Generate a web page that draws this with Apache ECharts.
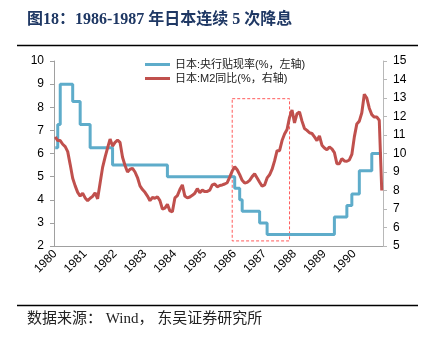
<!DOCTYPE html>
<html>
<head>
<meta charset="utf-8">
<script src="https://cdn.jsdelivr.net/npm/echarts@6/dist/echarts.min.js"></script>
<style>
  html, body { margin: 0; padding: 0; background: #fff; }
  #chart { width: 432px; height: 340px; }
</style>
</head>
<body>
<div id="chart"></div>
<script>
// Years shown on the category axis (one label per January)
const years = ['1980', '1981', '1982', '1983', '1984', '1985', '1986', '1987', '1988', '1989', '1990'];

// Bank of Japan official discount rate, month-end, %
const discountRate = [
  6.25, 7.25, 9.0, 9.0, 9.0, 9.0, 9.0, 8.25, 8.25, 8.25, 7.25, 7.25,          // 1980
  7.25, 7.25, 6.25, 6.25, 6.25, 6.25, 6.25, 6.25, 6.25, 6.25, 6.25, 5.5,      // 1981
  5.5, 5.5, 5.5, 5.5, 5.5, 5.5, 5.5, 5.5, 5.5, 5.5, 5.5, 5.5,                 // 1982
  5.5, 5.5, 5.5, 5.5, 5.5, 5.5, 5.5, 5.5, 5.5, 5.0, 5.0, 5.0,                 // 1983
  5.0, 5.0, 5.0, 5.0, 5.0, 5.0, 5.0, 5.0, 5.0, 5.0, 5.0, 5.0,                 // 1984
  5.0, 5.0, 5.0, 5.0, 5.0, 5.0, 5.0, 5.0, 5.0, 5.0, 5.0, 5.0,                 // 1985
  4.5, 4.5, 4.0, 3.5, 3.5, 3.5, 3.5, 3.5, 3.5, 3.5, 3.0, 3.0,                 // 1986
  3.0, 2.5, 2.5, 2.5, 2.5, 2.5, 2.5, 2.5, 2.5, 2.5, 2.5, 2.5,                 // 1987
  2.5, 2.5, 2.5, 2.5, 2.5, 2.5, 2.5, 2.5, 2.5, 2.5, 2.5, 2.5,                 // 1988
  2.5, 2.5, 2.5, 2.5, 3.25, 3.25, 3.25, 3.25, 3.25, 3.75, 3.75, 4.25,         // 1989
  4.25, 4.25, 5.25, 5.25, 5.25, 5.25, 5.25, 6.0, 6.0, 6.0, 6.0, 6.0           // 1990
];

// Japan M2 money supply, year-on-year growth, %
const m2Growth = [
  10.9, 10.7, 10.7, 10.5, 10.37, 10.1, 9.4, 8.66, 8.25, 7.9, 7.7, 7.85,       // 1980
  7.6, 7.45, 7.58, 7.68, 7.88, 7.55, 8.4, 9.25, 9.8, 10.3, 10.78, 10.4,       // 1981
  10.6, 10.72, 10.6, 9.8, 9.35, 9.0, 9.15, 9.2, 9.0, 8.7, 8.25, 8.05,         // 1982
  7.9, 7.7, 7.45, 7.62, 7.58, 7.66, 7.45, 7.0, 7.05, 7.25, 6.9, 6.85,         // 1983
  7.6, 7.72, 8.05, 8.3, 7.7, 7.6, 7.65, 7.74, 7.85, 8.1, 7.88, 8.02,          // 1984
  7.94, 7.95, 8.02, 8.3, 8.35, 8.2, 8.27, 8.3, 8.35, 8.42, 8.72, 9.05,        // 1985
  9.28, 9.12, 8.86, 8.55, 8.4, 8.44, 8.55, 8.75, 8.9, 8.68, 8.45, 8.23,       // 1986
  8.3, 8.68, 8.85, 9.15, 9.6, 10.15, 10.15, 10.7, 11.05, 11.3, 11.95, 12.35,  // 1987
  11.65, 12.15, 12.25, 11.75, 11.35, 11.25, 11.12, 11.08, 10.9, 10.7, 10.95, 10.45, // 1988
  10.3, 10.2, 10.35, 10.25, 10.05, 9.45, 9.45, 9.72, 9.6, 9.58, 9.65, 9.95,   // 1989
  10.9, 11.6, 11.75, 12.2, 13.2, 13.0, 12.45, 12.1, 11.97, 11.97, 11.8, 8.0   // 1990
];

// Monthly categories built from the year list
const months = [];
years.forEach(function (y) {
  for (let m = 1; m <= 12; m++) months.push(y + '-' + (m < 10 ? '0' + m : '' + m));
});

const seriesNames = ['日本:央行贴现率(%，左轴)', '日本:M2同比(%，右轴)'];
const titleText = '图18：1986-1987 年日本连续 5 次降息';
const sourceText = '数据来源： Wind， 东吴证券研究所';

const blue = '#5eacca';
const red = '#c0504d';
const axisGrey = '#a0a0a0';
const sansFont = '"Liberation Sans", Arial, sans-serif';
const cjkFont = '"Liberation Sans", "Noto Sans CJK SC", sans-serif';
const serifFont = '"Liberation Serif", "Times New Roman", "Noto Sans CJK SC", serif';

const chart = echarts.init(document.getElementById('chart'), null, { renderer: 'canvas' });

chart.setOption({
  animation: false,
  backgroundColor: '#fff',
  grid: { left: 54, right: 49, top: 61, bottom: 94, containLabel: false },
  legend: {
    orient: 'vertical',
    left: 140,
    top: 53,
    itemWidth: 25,
    itemHeight: 3,
    itemGap: 1,
    icon: 'rect',
    textStyle: { fontFamily: cjkFont, fontSize: 11, color: '#222', lineHeight: 13 },
    data: seriesNames
  },
  graphic: [
    {
      type: 'text', left: 27, top: 12,
      style: { text: titleText, font: 'bold 16px ' + serifFont, fill: '#1f3864' }
    },
    {
      type: 'line', shape: { x1: 17, y1: 45.5, x2: 418, y2: 45.5 },
      style: { stroke: '#000', lineWidth: 1.5 }
    },
    {
      type: 'line', shape: { x1: 17, y1: 305.5, x2: 418, y2: 305.5 },
      style: { stroke: '#000', lineWidth: 1.5 }
    },
    {
      type: 'text', left: 27, top: 312,
      style: { text: sourceText, font: '15px ' + serifFont, fill: '#222' }
    }
  ],
  xAxis: {
    type: 'category',
    data: months,
    boundaryGap: true,
    axisLine: { lineStyle: { color: axisGrey, width: 1 } },
    axisTick: { interval: 11, length: 4, lineStyle: { color: axisGrey } },
    axisLabel: {
      interval: 11,
      rotate: 45,
      margin: 6,
      fontFamily: sansFont,
      fontSize: 12,
      color: '#000',
      formatter: function (v) { return v.slice(0, 4); }
    },
    splitLine: { show: false }
  },
  yAxis: [
    {
      type: 'value', min: 2, max: 10, interval: 1, position: 'left',
      axisLine: { show: true, lineStyle: { color: axisGrey } },
      axisTick: { show: true, length: 4, lineStyle: { color: axisGrey } },
      axisLabel: { margin: 10, fontFamily: sansFont, fontSize: 12, color: '#000' },
      splitLine: { show: false }
    },
    {
      type: 'value', min: 5, max: 15, interval: 1, position: 'right',
      axisLine: { show: true, lineStyle: { color: '#b8b8b8' } },
      axisTick: { show: true, length: 4, lineStyle: { color: '#b8b8b8' } },
      axisLabel: { margin: 10, fontFamily: sansFont, fontSize: 12, color: '#000' },
      splitLine: { show: false }
    }
  ],
  series: [
    {
      name: seriesNames[0],
      type: 'line',
      yAxisIndex: 0,
      data: discountRate,
      step: 'end',
      symbol: 'none',
      color: blue,
      lineStyle: { color: blue, width: 3 },
      markArea: {
        silent: true,
        itemStyle: { color: 'rgba(0,0,0,0)', borderColor: '#ff5a5a', borderWidth: 1, borderType: [3, 2] },
        data: [[{ xAxis: '1985-12', yAxis: 8.37 }, { xAxis: '1987-11', yAxis: 2.22 }]]
      }
    },
    {
      name: seriesNames[1],
      type: 'line',
      yAxisIndex: 1,
      data: m2Growth,
      symbol: 'none',
      color: red,
      lineStyle: { color: red, width: 3 }
    }
  ]
});
</script>
</body>
</html>
